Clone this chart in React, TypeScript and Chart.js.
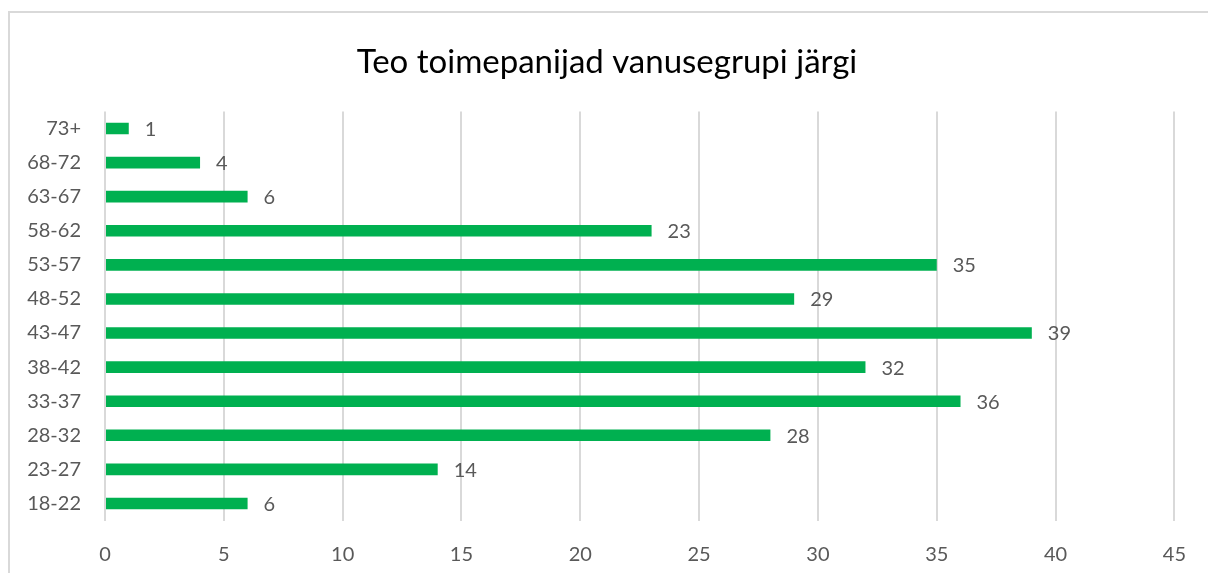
import React, { useEffect, useRef } from "react";
import { Chart, registerables } from "chart.js";

Chart.register(...registerables);

const TITLE = "Teo toimepanijad vanusegrupi järgi";
const categories = ["18-22", "23-27", "28-32", "33-37", "38-42", "43-47", "48-52", "53-57", "58-62", "63-67", "68-72", "73+"];
const values = [6, 14, 28, 36, 32, 39, 29, 35, 23, 6, 4, 1];
const X_MIN = 0;
const X_MAX = 45;
const X_STEP = 5;

const FONT = "Lato, 'Liberation Sans', sans-serif";
const TEXT = "#595959";
const GREEN = "#00B050";
const GRID = "#d9d9d9";

const valueLabels = {
  id: "valueLabels",
  afterDatasetsDraw(chart: any) {
    const ctx = chart.ctx;
    const meta = chart.getDatasetMeta(0);
    ctx.save();
    ctx.font = `20px ${FONT}`;
    ctx.fillStyle = TEXT;
    ctx.textAlign = "left";
    ctx.textBaseline = "middle";
    meta.data.forEach((el: any, i: number) => {
      ctx.fillText(String(chart.data.datasets[0].data[i]), el.x + 16, el.y + 1);
    });
    ctx.restore();
  },
};

const titleDraw = {
  id: "titleDraw",
  afterDraw(chart: any) {
    const ctx = chart.ctx;
    ctx.save();
    ctx.font = `33px ${FONT}`;
    ctx.fillStyle = "#000000";
    ctx.textAlign = "center";
    ctx.textBaseline = "alphabetic";
    ctx.fillText(TITLE, 607, 73);
    ctx.restore();
  },
};

export default function App() {
  const ref = useRef<HTMLCanvasElement>(null);
  useEffect(() => {
    const chart = new Chart(ref.current!, {
      type: "bar",
      data: {
        labels: categories,
        datasets: [
          {
            data: values,
            backgroundColor: GREEN,
            borderWidth: 0,
            barPercentage: 0.34,
            categoryPercentage: 1,
          },
        ],
      },
      options: {
        indexAxis: "y",
        animation: false,
        responsive: false,
        layout: { padding: { left: 0, right: 30.7, top: 111.45, bottom: 0 } },
        plugins: {
          legend: { display: false },
          tooltip: { enabled: false },
          title: { display: false },
        },
        scales: {
          x: {
            min: X_MIN,
            max: X_MAX,
            ticks: {
              stepSize: X_STEP,
              color: TEXT,
              font: { family: FONT, size: 20 },
              padding: 22,
            },
            grid: { color: GRID, lineWidth: 2, drawTicks: false },
            border: { display: false },
            afterFit: (s: any) => {
              s.height = 52.5;
            },
          },
          y: {
            reverse: true,
            ticks: {
              color: TEXT,
              font: { family: FONT, size: 20 },
              padding: 24,
            },
            grid: { display: false, drawTicks: false },
            border: { display: false },
            afterFit: (s: any) => {
              s.width = 105;
            },
          },
        },
      },
      plugins: [valueLabels, titleDraw],
    });
    return () => chart.destroy();
  }, []);

  return (
    <div style={{ position: "fixed", left: 0, top: 0, width: 1208, height: 573, overflow: "hidden", background: "#fff" }}>
      <div
        style={{
          position: "absolute",
          left: 8,
          top: 11,
          width: 1400,
          height: 800,
          border: `2px solid ${GRID}`,
          boxSizing: "border-box",
        }}
      />
      <canvas ref={ref} width={1208} height={573} style={{ position: "absolute", left: 0, top: 0, width: 1208, height: 573 }} />
    </div>
  );
}
